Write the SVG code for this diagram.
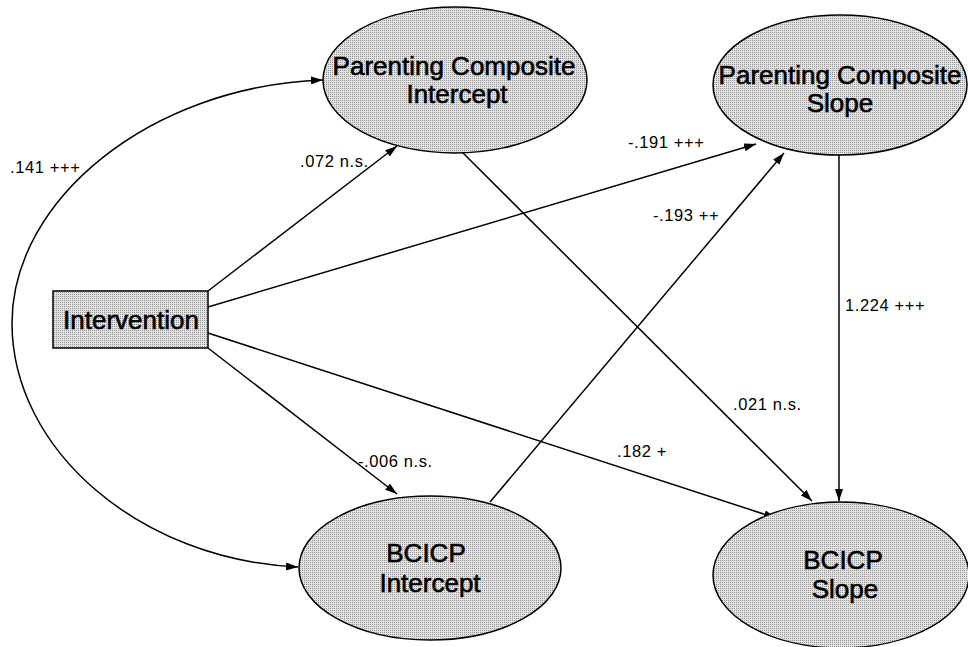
<svg xmlns="http://www.w3.org/2000/svg" width="968" height="647" viewBox="0 0 968 647">
  <defs>
    <!-- fine halftone grey used for all node fills -->
    <pattern id="stipple" width="2" height="2" patternUnits="userSpaceOnUse">
      <rect width="2" height="2" fill="#e2e2e2"/>
      <rect width="1" height="1" fill="#959595"/>
    </pattern>
    <marker id="arrow" viewBox="0 0 12 8" refX="12" refY="4" markerWidth="12" markerHeight="8" markerUnits="userSpaceOnUse" orient="auto-start-reverse">
      <path d="M0,0 L12,4 L0,8 Z" fill="#000"/>
    </marker>
  </defs>
  <style>
    .node { fill: url(#stipple); stroke: #000; stroke-width: 1.5; }
    .ntext { font-family: "Liberation Sans", Arial, sans-serif; font-size: 26px; text-anchor: middle; fill: #000; stroke: #000; stroke-width: 0.6px; }
    .edge { fill: none; stroke: #000; stroke-width: 1.5; marker-end: url(#arrow); }
    .lbl { font-family: "Liberation Sans", Arial, sans-serif; font-size: 16.5px; letter-spacing: 0.6px; fill: #000; }
  </style>
  <rect width="968" height="647" fill="#fff"/>

  <g id="connectors">
    <!-- covariance between the two intercepts -->
    <path class="edge" style="marker-start:url(#arrow)" d="M323,80 C150,86 12,200 12,323 C12,450 140,560 298,567"/>
    <line class="edge" x1="208" y1="291" x2="397" y2="146"/>
    <line class="edge" x1="208" y1="307" x2="756" y2="144"/>
    <line class="edge" x1="208" y1="333" x2="776" y2="518"/>
    <line class="edge" x1="208" y1="348" x2="397" y2="494"/>
    <line class="edge" x1="462" y1="152" x2="812" y2="501"/>
    <line class="edge" x1="490" y1="502" x2="784" y2="153"/>
    <line class="edge" x1="839" y1="155" x2="839" y2="501"/>
  </g>

  <g id="labels">
    <text class="lbl" x="10" y="173">.141 +++</text>
    <text class="lbl" x="300" y="167">.072 n.s.</text>
    <text class="lbl" x="628" y="148">-.191 +++</text>
    <text class="lbl" x="653" y="221">-.193 ++</text>
    <text class="lbl" x="845" y="311">1.224 +++</text>
    <text class="lbl" x="733" y="410">.021 n.s.</text>
    <text class="lbl" x="358" y="467">-.006 n.s.</text>
    <text class="lbl" x="617" y="457">.182 +</text>
  </g>

  <g id="intervention">
    <rect class="node" x="53" y="291" width="155" height="57"/>
    <text class="ntext" x="131" y="329">Intervention</text>
  </g>

  <g id="parenting-intercept">
    <ellipse class="node" cx="455" cy="80" rx="132" ry="73"/>
    <text class="ntext" x="454" y="75">Parenting Composite</text>
    <text class="ntext" x="457" y="103">Intercept</text>
  </g>

  <g id="parenting-slope">
    <ellipse class="node" cx="840" cy="85" rx="127" ry="70"/>
    <text class="ntext" x="840" y="84">Parenting Composite</text>
    <text class="ntext" x="840" y="112">Slope</text>
  </g>

  <g id="bcicp-intercept">
    <ellipse class="node" cx="430" cy="568" rx="131" ry="72"/>
    <text class="ntext" x="426" y="562">BCICP</text>
    <text class="ntext" x="430" y="592">Intercept</text>
  </g>

  <g id="bcicp-slope">
    <ellipse class="node" cx="841" cy="575" rx="128" ry="73"/>
    <text class="ntext" x="843" y="569">BCICP</text>
    <text class="ntext" x="845" y="598">Slope</text>
  </g>
</svg>
